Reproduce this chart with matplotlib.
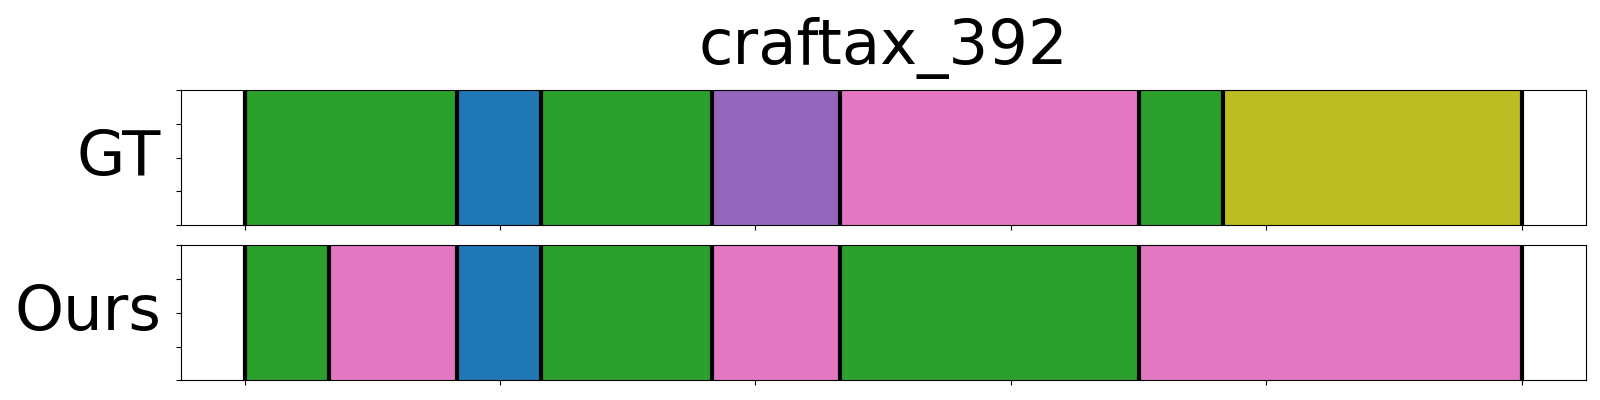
import matplotlib.pyplot as plt
import numpy as np

title = "craftax_392"
row_names = ["GT", "Ours"]

# segment boundaries (frame index) and segment colours per row
gt_bounds = [0, 83, 116, 183, 233, 350, 383, 500]
gt_colors = ["#2ca02c", "#1f77b4", "#2ca02c", "#9467bd", "#e377c2", "#2ca02c", "#bcbd22"]

ours_bounds = [0, 33, 83, 116, 183, 233, 350, 500]
ours_colors = ["#2ca02c", "#e377c2", "#1f77b4", "#2ca02c", "#e377c2", "#2ca02c", "#e377c2"]

x_ticks = [0, 100, 200, 300, 400, 500]
y_ticks = [0, 0.25, 0.5, 0.75, 1.0]


def draw_row(ax, bounds, colors, name):
    spans = [(bounds[i], bounds[i + 1] - bounds[i]) for i in range(len(colors))]
    ax.broken_barh(spans, (0, 1), facecolors=colors, edgecolor=colors, linewidth=0.5)
    for b in bounds:
        ax.axvline(b, color='black', linewidth=3)
    ax.set_xlim(-25, 525)
    ax.set_ylim(0, 1)
    ax.set_xticks(x_ticks)
    ax.set_xticklabels([])
    ax.set_yticks(y_ticks)
    ax.set_yticklabels([])
    ax.set_ylabel(name, fontsize=45, rotation=0, ha='right', va='center')
    ax.yaxis.set_label_coords(-0.014, 0.5)


fig = plt.figure(figsize=(16, 4), dpi=100)
ax1 = fig.add_axes([0.113, 0.4375, 0.878, 0.3365])
ax2 = fig.add_axes([0.113, 0.049, 0.878, 0.3375])

draw_row(ax1, gt_bounds, gt_colors, row_names[0])
draw_row(ax2, ours_bounds, ours_colors, row_names[1])
ax1.set_title(title, fontsize=45, pad=19)

plt.savefig("out.png", dpi=100)
plt.close(fig)
